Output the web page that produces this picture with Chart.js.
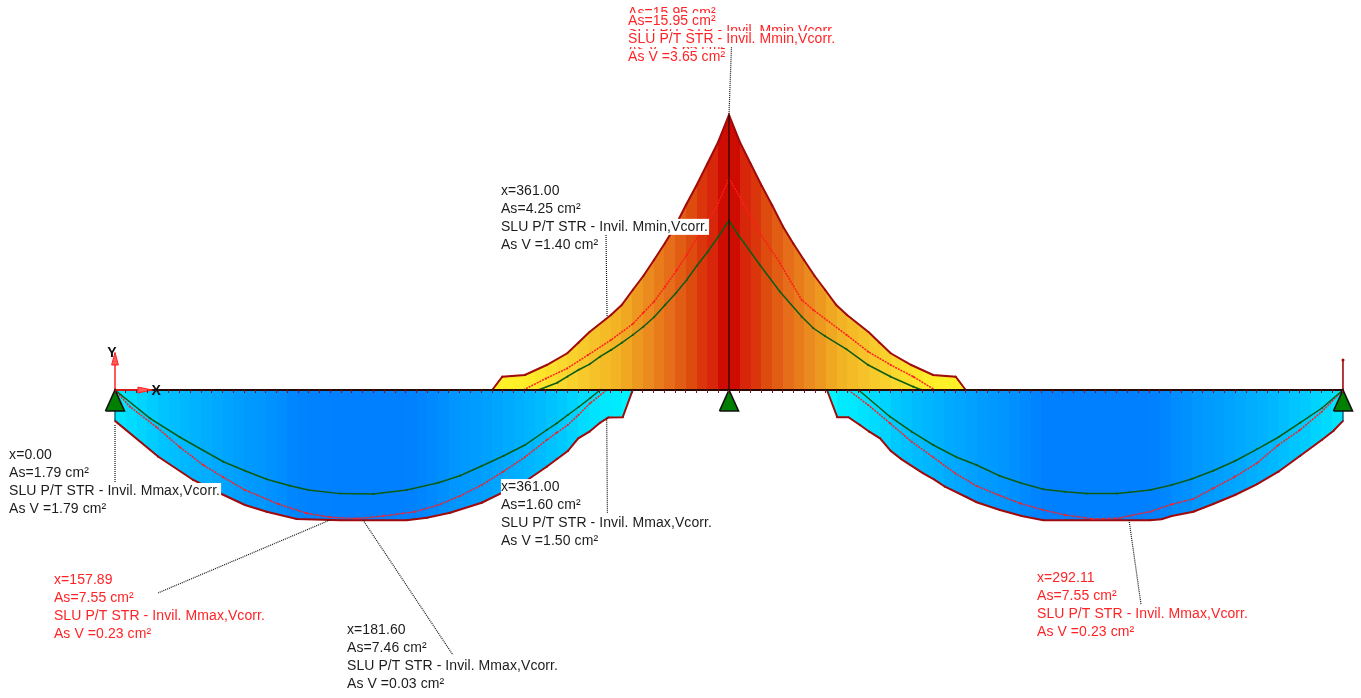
<!DOCTYPE html>
<html>
<head>
<meta charset="utf-8">
<title>As envelope</title>
<script src="https://cdn.jsdelivr.net/npm/chart.js@4"></script>
<style>
    html, body { margin: 0; padding: 0; background: #fff; }
    canvas { display: block; }
</style>
</head>
<body>
<canvas id="envelope" width="1361" height="698"></canvas>
<script>
// stations along the beam (cm), As in cm2. top bars positive, bottom bars negative
var supports = [0, 361, 722]

var topOuterX = [221.8, 227.7, 241, 253.8, 265.9, 272.4, 278.8, 291.6, 297.9, 304.4, 310.6, 316.9, 323.2, 329.2, 335.7, 342, 348.4, 354.7, 361, 367.3, 373.6, 380, 386.3, 392.8, 398.8, 405.1, 411.4, 417.6, 424.1, 430.4, 443.2, 449.6, 456.1, 468.2, 481, 494.3, 500.2]
var topOuterAs = [0, 0.77, 0.87, 1.45, 2.13, 2.74, 3.35, 4.35, 4.93, 5.8, 6.61, 7.54, 8.5, 9.47, 10.73, 11.89, 13.15, 14.4, 15.95, 14.4, 13.15, 11.89, 10.73, 9.47, 8.5, 7.54, 6.61, 5.8, 4.93, 4.35, 3.35, 2.74, 2.13, 1.45, 0.87, 0.77, 0]

var topRedX = [240.1, 253.4, 265.8, 278.1, 291.6, 304.4, 310.6, 316.9, 323.4, 330.3, 336.1, 342, 348.5, 354.7, 361, 369.4, 379.2, 391, 403.8, 410.6, 430.2, 442.9, 456.1, 469.4, 482.1]
var topRedAs = [0, 0.67, 1.25, 2.03, 2.9, 3.83, 4.48, 5.12, 5.99, 6.96, 7.83, 8.8, 9.76, 10.83, 12.28, 10.83, 9.09, 7.35, 5.22, 4.64, 3.19, 2.22, 1.45, 0.77, 0]

var topGreenX = [248.9, 260, 265.9, 272.4, 278.9, 285.2, 291.6, 297.9, 304.4, 310.6, 316.9, 323.4, 329.7, 336.1, 342, 348.5, 354.7, 361, 366.5, 379.2, 391, 403.8, 410.6, 417.5, 430.2, 442.9, 456.1, 469.4, 474.3]
var topGreenAs = [0, 0.42, 0.77, 1.16, 1.49, 1.93, 2.32, 2.74, 3.19, 3.67, 4.22, 4.93, 5.61, 6.38, 7.19, 8.02, 8.89, 9.82, 8.99, 7.25, 5.7, 4.25, 3.58, 3.13, 2.36, 1.45, 0.77, 0.19, 0]

var leftOuterX = [0, 25.5, 46, 61.7, 76.4, 89.2, 106.8, 132.3, 171.5, 183.4, 197, 215.6, 241, 253.8, 259.7, 266.2, 272.4, 278.9, 285.2, 290, 298.5, 304.4]
var leftOuterAs = [-1.79, -3.87, -5.22, -5.99, -6.67, -7.06, -7.48, -7.55, -7.55, -7.41, -7.12, -6.54, -5.32, -4.45, -4.02, -3.54, -2.8, -2.42, -1.9, -1.6, -1.58, 0]

var leftRedX = [0, 8.8, 24.5, 38.2, 51.9, 63.7, 76.4, 96, 112.7, 126.4, 142.1, 157.7, 176.4, 190.1, 202.8, 215.6, 228.1, 241, 253.8, 259.7, 266.2, 272.4, 279.3, 289.1]
var leftRedAs = [0, -0.97, -2.16, -3.32, -4.35, -5.06, -5.8, -6.61, -7.15, -7.38, -7.46, -7.31, -7.06, -6.67, -6.15, -5.51, -4.74, -3.9, -2.9, -2.48, -2.03, -1.45, -0.77, 0]

var leftGreenX = [0, 20.6, 38.2, 63.7, 76.4, 89.2, 102.9, 113.7, 132.3, 151.9, 171.5, 190.1, 202.8, 215.6, 228.3, 241, 253.8, 259.7, 266.2, 272.4, 279.3, 285.2]
var leftGreenAs = [0, -1.64, -2.74, -4.16, -4.68, -5.18, -5.55, -5.8, -6.01, -6.03, -5.8, -5.38, -4.97, -4.41, -3.83, -3.19, -2.32, -1.93, -1.45, -1, -0.48, 0]

var rightOuterX = [418.6, 424.7, 431.2, 438, 443.5, 449.8, 456.2, 462.5, 475.2, 481.5, 488, 500.8, 506.6, 520.3, 533.1, 545.8, 571.3, 608.5, 615.4, 621.3, 634, 645.7, 658.5, 671.3, 684, 696.7, 709.5, 716.3, 722]
var rightOuterAs = [0, -1.58, -1.58, -2.03, -2.42, -2.8, -3.54, -4.02, -4.83, -5.18, -5.61, -6.22, -6.51, -6.96, -7.31, -7.55, -7.55, -7.55, -7.5, -7.31, -7.06, -6.61, -6.09, -5.47, -4.74, -3.83, -2.9, -2.38, -1.79]

var rightRedX = [431.2, 442.9, 455.7, 468.4, 481.1, 493.9, 506.6, 519.4, 532.1, 545.8, 558.6, 575.2, 590, 596.8, 608.5, 621.3, 634, 645.7, 658.5, 671.3, 684, 696.7, 709.5, 722]
var rightRedAs = [0, -0.87, -1.93, -3, -3.9, -4.83, -5.57, -6.09, -6.57, -6.96, -7.25, -7.48, -7.44, -7.29, -7.06, -6.63, -6.32, -5.7, -5.03, -4.25, -3.19, -2.32, -1.26, 0]

var rightGreenX = [437.2, 455.7, 468.4, 481.1, 494.9, 506.6, 520.3, 533.1, 545.8, 558.6, 571.3, 589, 596.8, 608.5, 621.3, 633, 645.7, 658.5, 671.3, 684, 696.7, 709.5, 722]
var rightGreenAs = [0, -1.55, -2.42, -3.19, -3.9, -4.35, -4.99, -5.41, -5.76, -5.9, -6.01, -6.01, -5.93, -5.8, -5.51, -5.16, -4.68, -4.12, -3.44, -2.74, -1.9, -1.06, 0]

var endStubAs = 1.74

// colour scale, As value -> band colour
var topRampAs = [0, 0.8, 2, 3.9, 5.2, 6.9, 8.9, 10, 11.3, 12.7, 14, 15.3, 15.95]
var topRampRgb = [[255, 245, 40], [255, 240, 40], [250, 215, 45], [245, 190, 40], [240, 170, 35], [235, 140, 30], [230, 110, 25], [226, 95, 20], [222, 75, 15], [218, 50, 10], [215, 35, 10], [205, 10, 0], [200, 5, 0]]
var botRampAs = [0, 1.6, 3.5, 5.5, 7, 7.3, 7.55]
var botRampRgb = [[0, 255, 255], [0, 235, 255], [0, 205, 255], [0, 175, 255], [0, 150, 255], [0, 140, 255], [0, 128, 255]]

// callouts
var calloutRed = "#ff2326"
var calloutBlack = "#1c1c1c"
var callouts = [
    { x: 301.6, as: 21.86, color: calloutRed, lines: ["As=15.95 cm²", "SLU P/T STR - Invil. Mmin,Vcorr.", "As V =3.65 cm²"] },
    { x: 301.6, as: 21.4, color: calloutRed, lines: ["As=15.95 cm²", "SLU P/T STR - Invil. Mmin,Vcorr.", "As V =3.65 cm²"] },
    { x: 226.9, as: 11.55, color: calloutBlack, lines: ["x=361.00", "As=4.25 cm²", "SLU P/T STR - Invil. Mmin,Vcorr.", "As V =1.40 cm²"] },
    { x: -62.3, as: -3.77, color: calloutBlack, lines: ["x=0.00", "As=1.79 cm²", "SLU P/T STR - Invil. Mmax,Vcorr.", "As V =1.79 cm²"] },
    { x: 226.9, as: -5.63, color: calloutBlack, lines: ["x=361.00", "As=1.60 cm²", "SLU P/T STR - Invil. Mmax,Vcorr.", "As V =1.50 cm²"] },
    { x: -35.9, as: -11.02, color: calloutRed, lines: ["x=157.89", "As=7.55 cm²", "SLU P/T STR - Invil. Mmax,Vcorr.", "As V =0.23 cm²"] },
    { x: 136.4, as: -13.92, color: calloutBlack, lines: ["x=181.60", "As=7.46 cm²", "SLU P/T STR - Invil. Mmax,Vcorr.", "As V =0.03 cm²"] },
    { x: 542.1, as: -10.91, color: calloutRed, lines: ["x=292.11", "As=7.55 cm²", "SLU P/T STR - Invil. Mmax,Vcorr.", "As V =0.23 cm²"] },
]

var leaderLines = [
    [[362.5, 20], [361, 15.95]],
    [[288.7, 8.99], [289.3, 4.25]],
    [[0, -2.03], [0, -5.34]],
    [[289.1, -1.64], [289.5, -7.13]],
    [[126.4, -7.54], [25.3, -11.77]],
    [[145.8, -7.54], [198.7, -15.37]],
    [[596.2, -7.54], [603.3, -12.47]],
]

var bandWidth = 19 / 3

function pts(xs, ys) {
    return xs.map(function (x, i) {
        return { x: x, y: ys[i] }
    })
}

function interp(xs, ys, v) {
    if (v <= xs[0]) return ys[0]
    for (var i = 1; i < xs.length; i++) {
        if (v <= xs[i]) {
            var t = (v - xs[i - 1]) / (xs[i] - xs[i - 1])
            return ys[i - 1] + (ys[i] - ys[i - 1]) * t
        }
    }
    return ys[ys.length - 1]
}

function rampColor(rampAs, rampRgb, v) {
    var rgb = [0, 1, 2].map(function (c) {
        return Math.round(interp(rampAs, rampRgb.map(function (r) { return r[c] }), v))
    })
    return "rgb(" + rgb.join(",") + ")"
}

// stepped fill, one flat colour per mesh band like the FEM plot
function bandFill(xs, ys, rampAs, rampRgb) {
    var cached = null
    return function (ctx) {
        var chart = ctx.chart
        if (!chart.chartArea) return "#fff"
        if (cached) return cached
        var sx = chart.scales.x
        var left = xs[0]
        var right = xs[xs.length - 1]
        var x0 = sx.getPixelForValue(left)
        var x1 = sx.getPixelForValue(right)
        var g = chart.ctx.createLinearGradient(x0, 0, x1, 0)
        var k0 = Math.floor(left / bandWidth)
        var k1 = Math.ceil(right / bandWidth)
        for (var k = k0; k < k1; k++) {
            var a = Math.max(k * bandWidth, left)
            var b = Math.min((k + 1) * bandWidth, right)
            var mid = (k + 0.5) * bandWidth
            var c = rampColor(rampAs, rampRgb, Math.abs(interp(xs, ys, mid)))
            g.addColorStop((a - left) / (right - left), c)
            g.addColorStop((b - left) / (right - left), c)
        }
        cached = g
        return g
    }
}

function lineSet(data, color, width, extra) {
    return Object.assign({
        data: data,
        showLine: true,
        borderColor: color,
        borderWidth: width,
        backgroundColor: color,
        pointRadius: 0,
        fill: false,
        tension: 0,
    }, extra || {})
}

function polygon(data, fillColor, edgeColor, width) {
    return lineSet(data, edgeColor, width, { fill: "shape", backgroundColor: fillColor })
}

var darkRed = "#a00a0a"
var green = "#0c5c12"
var dotRed = "#ff1c1c"

function outer(xs, ys, ramp, rgb) {
    return lineSet(pts(xs, ys), darkRed, 2, {
        fill: "origin",
        backgroundColor: bandFill(xs, ys, ramp, rgb),
        pointRadius: 1.5,
        pointStyle: "triangle",
        pointBackgroundColor: darkRed,
        pointBorderWidth: 0,
    })
}

function greenLine(xs, ys) {
    return lineSet(pts(xs, ys), green, 1.5, {
        pointRadius: 1.5,
        pointStyle: "triangle",
        pointBackgroundColor: green,
        pointBorderWidth: 0,
    })
}

function redLine(xs, ys) {
    return lineSet(pts(xs, ys), dotRed, 1.5, {
        borderDash: [2, 1],
        pointRadius: 1,
        pointBackgroundColor: dotRed,
        pointBorderWidth: 0,
    })
}

// first dataset is drawn on top
var datasets = []

supports.forEach(function (s) {
    datasets.push(polygon(pts([s - 5.6, s, s + 5.6, s - 5.6], [-1.22, 0, -1.22, -1.22]), "#008000", "#111", 1.6))
})

// local axes at the first support
datasets.push(polygon(pts([-2, 0, 2, -2], [1.45, 2.18, 1.45, 1.45]), "#ff5a5a", "#ff2020", 1))
datasets.push(polygon(pts([13.5, 22, 13.5, 13.5], [0.17, 0, -0.17, 0.17]), "#ff5a5a", "#ff2020", 1))
datasets.push(lineSet(pts([0, 0], [0, 1.5]), "#ff3030", 1.6))
datasets.push(lineSet(pts([0, 14], [0, 0]), "#ff2020", 1.6))

// beam axis
datasets.push(lineSet(pts([0, 722], [0, 0]), "#2a0805", 2))
// column line at the middle support
datasets.push(lineSet(pts([361, 361], [0, 15.95]), "#1a0505", 1.2))

leaderLines.forEach(function (l) {
    datasets.push(lineSet(l.map(function (p) { return { x: p[0], y: p[1] } }), "#111", 1.2, { borderDash: [1, 1] }))
})

datasets.push(greenLine(topGreenX, topGreenAs))
datasets.push(greenLine(leftGreenX, leftGreenAs))
datasets.push(greenLine(rightGreenX, rightGreenAs))
datasets.push(redLine(topRedX, topRedAs))
datasets.push(redLine(leftRedX, leftRedAs))
datasets.push(redLine(rightRedX, rightRedAs))

// stubs at the end supports
datasets.push(lineSet(pts([0, 0], [0, leftOuterAs[0]]), "#0b6a7c", 1.5))
datasets.push(lineSet(pts([722, 722], [0, rightOuterAs[rightOuterAs.length - 1]]), "#0b6a7c", 1.5))
datasets.push(lineSet(pts([722, 722], [0, endStubAs]), darkRed, 1.6, {
    pointRadius: [0, 1.5],
    pointBackgroundColor: darkRed,
    pointBorderWidth: 0,
}))

datasets.push(outer(topOuterX, topOuterAs, topRampAs, topRampRgb))
datasets.push(outer(leftOuterX, leftOuterAs, botRampAs, botRampRgb))
datasets.push(outer(rightOuterX, rightOuterAs, botRampAs, botRampRgb))

var calloutPlugin = {
    id: "callouts",
    afterDatasetsDraw: function (chart) {
        var ctx = chart.ctx
        var sx = chart.scales.x
        var sy = chart.scales.y
        ctx.save()
        ctx.font = "14px 'Liberation Sans', Arial, sans-serif"
        ctx.letterSpacing = "0.08px"
        ctx.textBaseline = "middle"
        ctx.textAlign = "left"
        callouts.forEach(function (c) {
            var px = sx.getPixelForValue(c.x)
            var py = sy.getPixelForValue(c.as)
            c.lines.forEach(function (line, i) {
                var y = py + i * 18
                ctx.fillStyle = "#fff"
                ctx.fillRect(px, y - 8, ctx.measureText(line).width + 1, 16)
                ctx.fillStyle = c.color
                ctx.fillText(line, px, y)
            })
        })
        ctx.font = "bold 14px 'Liberation Sans', Arial, sans-serif"
        ctx.fillStyle = "#111"
        ctx.fillText("Y", sx.getPixelForValue(-4.5), sy.getPixelForValue(2.15))
        ctx.fillText("X", sx.getPixelForValue(21.5), sy.getPixelForValue(-0.06))
        ctx.restore()
    },
}

new Chart("envelope", {
    type: "scatter",
    data: { datasets: datasets },
    plugins: [calloutPlugin],
    options: {
        responsive: false,
        animation: false,
        layout: { padding: 0, autoPadding: false },
        plugins: {
            legend: { display: false },
            tooltip: { enabled: false },
        },
        scales: {
            x: {
                type: "linear",
                position: { y: 0 },
                min: -67.62,
                max: 732.6,
                border: { display: false },
                grid: {
                    drawOnChartArea: false,
                    drawTicks: true,
                    tickLength: 3,
                    tickColor: "#8a1010",
                    tickWidth: 1,
                    z: 1,
                },
                ticks: { display: false, stepSize: bandWidth, autoSkip: false, includeBounds: false },
                afterBuildTicks: function (scale) {
                    scale.ticks = scale.ticks.filter(function (t) {
                        return t.value >= 0 && t.value <= 722
                    })
                },
            },
            y: {
                type: "linear",
                display: false,
                min: -17.864,
                max: 22.62,
            },
        },
    },
})
</script>
</body>
</html>
